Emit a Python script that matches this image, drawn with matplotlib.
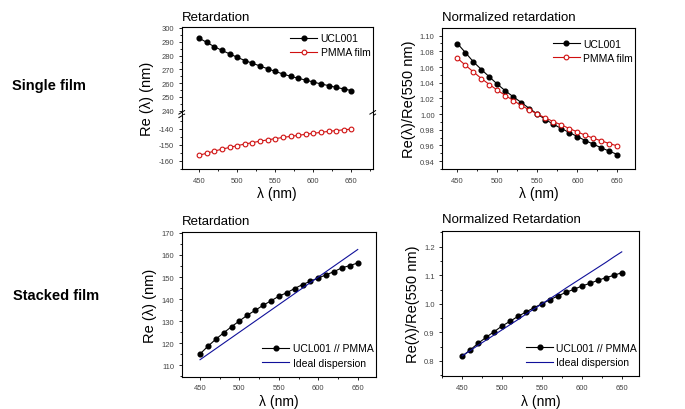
import numpy as np
import matplotlib
matplotlib.use("Agg")
import matplotlib.pyplot as plt
from matplotlib.ticker import MultipleLocator

plt.rcParams['font.family'] = ['Liberation Sans', 'DejaVu Sans']
plt.rcParams['axes.unicode_minus'] = False

# wavelengths (nm)
wl = [450, 460, 470, 480, 490, 500, 510, 520, 530, 540, 550,
      560, 570, 580, 590, 600, 610, 620, 630, 640, 650]

# single film retardation (nm)
ucl_re = [292.6, 289.5, 286.4, 283.7, 281.2, 278.7, 276.4, 274.4, 272.4, 270.4, 268.5,
          266.6, 265.0, 263.5, 262.2, 260.8, 259.4, 258.2, 256.9, 255.8, 254.6]
pmma_re = [-156.4, -155.1, -153.8, -152.6, -151.5, -150.4, -149.4, -148.5, -147.6, -146.8, -146.0,
           -145.3, -144.6, -144.0, -143.3, -142.7, -142.1, -141.5, -141.0, -140.5, -140.1]

# single film normalized retardation
ucl_norm = [1.0898, 1.0783, 1.0665, 1.0567, 1.0473, 1.038, 1.0295, 1.0219, 1.0146, 1.007, 1.0,
            0.993, 0.987, 0.9815, 0.9764, 0.9713, 0.9662, 0.9616, 0.9569, 0.9527, 0.9484]
pmma_norm = [1.0711, 1.0622, 1.0537, 1.0452, 1.0376, 1.0304, 1.0236, 1.0172, 1.0108, 1.0053, 1.0,
             0.9951, 0.9904, 0.9862, 0.9815, 0.9773, 0.973, 0.9692, 0.9658, 0.9624, 0.9594]

# stacked film
stack_re = [115.1, 118.6, 121.8, 124.7, 127.5, 130.1, 132.7, 134.9, 137.2, 139.2, 141.3,
            142.9, 144.8, 146.6, 148.1, 149.6, 151.0, 152.5, 154.2, 155.2, 156.4]
ideal_re = [112.5, 115.0, 117.5, 120.0, 122.5, 125.0, 127.5, 130.0, 132.5, 135.0, 137.5,
            140.0, 142.5, 145.0, 147.5, 150.0, 152.5, 155.0, 157.5, 160.0, 162.5]
stack_norm = [0.8163, 0.8385, 0.8618, 0.8828, 0.9026, 0.9224, 0.9388, 0.9563, 0.9714, 0.9866, 1.0,
              1.0146, 1.0274, 1.0402, 1.0507, 1.0624, 1.0717, 1.0822, 1.0915, 1.0997, 1.109]
ideal_norm = [0.818, 0.836, 0.855, 0.873, 0.891, 0.909, 0.927, 0.945, 0.964, 0.982, 1.0,
              1.018, 1.036, 1.055, 1.073, 1.091, 1.109, 1.127, 1.145, 1.164, 1.182]

RED = '#d01010'
BLUE = '#10109a'
TICKC = '#444444'
MS = 3.4


def style_ax(ax, xlim):
    ax.set_xlim(*xlim)
    ax.xaxis.set_major_locator(MultipleLocator(50))
    ax.xaxis.set_minor_locator(MultipleLocator(25))
    ax.tick_params(which='both', direction='out', labelsize=5.5, colors='black',
                   labelcolor=TICKC, width=0.6)
    ax.tick_params(which='major', length=2.5, pad=3)
    ax.tick_params(which='minor', length=1.5)
    for s in ax.spines.values():
        s.set_linewidth(0.8)


def title(ax, txt):
    ax.text(0.0, 1.04, txt, transform=ax.transAxes, fontsize=9.5,
            ha='left', va='bottom')


def legend(ax, loc, bbox):
    ax.legend(loc=loc, bbox_to_anchor=bbox, frameon=False, fontsize=7.5,
              handlelength=2.6, handletextpad=0.3, labelspacing=0.4,
              borderaxespad=0.2)


fig = plt.figure(figsize=(6.85, 4.10), dpi=100)

# ---- single film, retardation (broken y axis)
ax_up = fig.add_axes([0.2653, 0.7171, 0.2788, 0.2146])
ax_lo = fig.add_axes([0.2653, 0.5854, 0.2788, 0.1317])
for a in (ax_up, ax_lo):
    style_ax(a, (427, 678))
    a.plot(wl, ucl_re, '-o', color='black', lw=0.8, ms=MS, label='UCL001')
    a.plot(wl, pmma_re, '-o', color=RED, lw=0.8, ms=MS, mfc='white',
           mec=RED, mew=0.8, label='PMMA film')
ax_up.set_ylim(236.9, 300.7)
ax_lo.set_ylim(-165, -131.25)
ax_up.yaxis.set_major_locator(MultipleLocator(10))
ax_up.yaxis.set_minor_locator(MultipleLocator(5))
ax_lo.yaxis.set_major_locator(MultipleLocator(10))
ax_lo.yaxis.set_minor_locator(MultipleLocator(5))
ax_up.spines['bottom'].set_visible(False)
ax_lo.spines['top'].set_visible(False)
ax_up.tick_params(axis='x', which='both', bottom=False, labelbottom=False)
# break marks
for xb in (0, 1):
    ax_up.plot([xb - 0.015, xb + 0.015], [0.01, 0.05], color='black', lw=0.7,
               transform=ax_up.transAxes, clip_on=False)
    ax_up.plot([xb - 0.015, xb + 0.015], [-0.03, 0.01], color='black', lw=0.7,
               transform=ax_up.transAxes, clip_on=False)
title(ax_up, 'Retardation')
legend(ax_up, 'upper right', (1.02, 1.0))
ax_lo.set_xlabel('λ (nm)', fontsize=10, labelpad=2)
fig.text(0.215, 0.76, 'Re (λ) (nm)', rotation=90, fontsize=10.5,
         ha='center', va='center')

# ---- single film, normalized
ax2 = fig.add_axes([0.6457, 0.5854, 0.2813, 0.3432])
style_ax(ax2, (431, 672))
ax2.plot(wl, ucl_norm, '-o', color='black', lw=0.8, ms=MS, label='UCL001')
ax2.plot(wl, pmma_norm, '-o', color=RED, lw=0.8, ms=MS, mfc='white',
         mec=RED, mew=0.8, label='PMMA film')
ax2.set_ylim(0.930, 1.1094)
ax2.yaxis.set_major_locator(MultipleLocator(0.02))
ax2.yaxis.set_minor_locator(MultipleLocator(0.01))
ax2.yaxis.set_major_formatter(plt.FormatStrFormatter('%.2f'))
title(ax2, 'Normalized retardation')
legend(ax2, 'upper right', (1.02, 0.97))
ax2.set_xlabel('λ (nm)', fontsize=10, labelpad=2)
ax2.set_ylabel('Re(λ)/Re(550 nm)', fontsize=10.5, labelpad=3)

# ---- stacked film, retardation
ax3 = fig.add_axes([0.2653, 0.0788, 0.2832, 0.3522])
style_ax(ax3, (426.8, 672.8))
ax3.plot(wl, stack_re, '-o', color='black', lw=0.8, ms=MS, label='UCL001 // PMMA')
ax3.plot(wl, ideal_re, '-', color=BLUE, lw=0.8, label='Ideal dispersion')
ax3.set_ylim(104.8, 170.3)
ax3.yaxis.set_major_locator(MultipleLocator(10))
ax3.yaxis.set_minor_locator(MultipleLocator(5))
title(ax3, 'Retardation')
legend(ax3, 'lower right', (1.02, 0.02))
ax3.set_xlabel('λ (nm)', fontsize=10, labelpad=2)
ax3.set_ylabel('Re (λ) (nm)', fontsize=10.5, labelpad=3)

# ---- stacked film, normalized
ax4 = fig.add_axes([0.6457, 0.0797, 0.2876, 0.3551])
style_ax(ax4, (425, 672))
ax4.plot(wl, stack_norm, '-o', color='black', lw=0.8, ms=MS, label='UCL001 // PMMA')
ax4.plot(wl, ideal_norm, '-', color=BLUE, lw=0.8, label='Ideal dispersion')
ax4.set_ylim(0.746, 1.256)
ax4.yaxis.set_major_locator(MultipleLocator(0.1))
ax4.yaxis.set_minor_locator(MultipleLocator(0.05))
ax4.yaxis.set_major_formatter(plt.FormatStrFormatter('%.1f'))
title(ax4, 'Normalized Retardation')
legend(ax4, 'lower right', (1.02, 0.02))
ax4.set_xlabel('λ (nm)', fontsize=10, labelpad=2)
ax4.set_ylabel('Re(λ)/Re(550 nm)', fontsize=10.5, labelpad=3)

# row labels
fig.text(0.018, 0.79, 'Single film', fontsize=10.5, fontweight='bold',
         ha='left', va='center')
fig.text(0.019, 0.278, 'Stacked film', fontsize=10.5, fontweight='bold',
         ha='left', va='center')

fig.savefig('out.png', dpi=100)
